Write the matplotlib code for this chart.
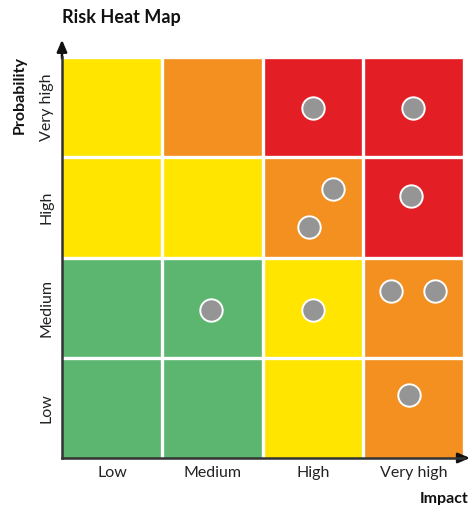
import matplotlib
matplotlib.use("Agg")
import matplotlib.pyplot as plt
import numpy as np
from matplotlib.colors import ListedColormap

plt.rcParams['font.family'] = ['Lato', 'DejaVu Sans']

levels = ["Low", "Medium", "High", "Very high"]

# risk class per cell: rows = probability (Low..Very high), cols = impact (Low..Very high)
# 0 = low (green), 1 = moderate (yellow), 2 = significant (orange), 3 = critical (red)
risk_grid = [
    [0, 0, 1, 2],
    [0, 0, 1, 2],
    [1, 1, 2, 3],
    [1, 2, 3, 3],
]
risk_colors = ["#5cb670", "#ffe500", "#f39020", "#e31e25"]

# individual risks placed by impact / probability score
risk_impact = [2.50, 3.49, 2.70, 2.46, 3.47, 1.48, 2.50, 3.27, 3.71, 3.45]
risk_probability = [3.49, 3.49, 2.68, 2.30, 2.61, 1.48, 1.48, 1.67, 1.67, 0.63]

fig = plt.figure(figsize=(4.71, 5.05), dpi=100)
ax = fig.add_axes([0.1316, 0.0931, 0.8534, 0.7939])

cmap = ListedColormap(risk_colors)
ax.pcolormesh(np.arange(5), np.arange(5), np.array(risk_grid), cmap=cmap,
              vmin=-0.5, vmax=3.5)

# white gutters between cells (interior boundaries plus outer top/right)
for k in range(1, 5):
    ax.axvline(k, color="white", lw=2.4, zorder=2)
    ax.axhline(k, color="white", lw=2.4, zorder=2)

ax.scatter(risk_impact, risk_probability, s=260, color="#959595",
           edgecolors="white", linewidths=1.4, zorder=3)

ax.set_xlim(0, 4)
ax.set_ylim(0, 4)
ax.set_xticks(np.arange(4) + 0.5)
ax.set_xticklabels(levels, fontsize=11.5, color="#222222")
ax.set_yticks(np.arange(4) + 0.5)
ax.set_yticklabels(levels, fontsize=11.5, color="#222222", rotation=90, va="center")
ax.tick_params(length=0, pad=6)

for side in ("top", "right"):
    ax.spines[side].set_visible(False)
for side in ("left", "bottom"):
    ax.spines[side].set_color("#333333")
    ax.spines[side].set_linewidth(1.8)
    ax.spines[side].set_zorder(4)

# arrow heads on both axes
ax.annotate("", xy=(0, 1.05), xytext=(0, 0.99), xycoords="axes fraction",
            arrowprops=dict(arrowstyle="-|>,head_length=0.7,head_width=0.3",
                            color="#111111", lw=1.8), annotation_clip=False)
ax.annotate("", xy=(1.022, 0), xytext=(0.99, 0), xycoords="axes fraction",
            arrowprops=dict(arrowstyle="-|>,head_length=0.7,head_width=0.3",
                            color="#111111", lw=1.8), annotation_clip=False)

fig.text(62 / 471, 1 - 18 / 505, "Risk Heat Map", fontsize=13, fontweight="bold",
         color="#111111", ha="left", va="center")
fig.text(20 / 471, 1 - 95 / 505, "Probability", fontsize=11.5, fontweight="bold",
         color="#111111", rotation=90, ha="center", va="center")
fig.text(444 / 471, 1 - 499 / 505, "Impact", fontsize=11.5, fontweight="bold",
         color="#111111", ha="center", va="center")

fig.savefig("out.png", dpi=100)
